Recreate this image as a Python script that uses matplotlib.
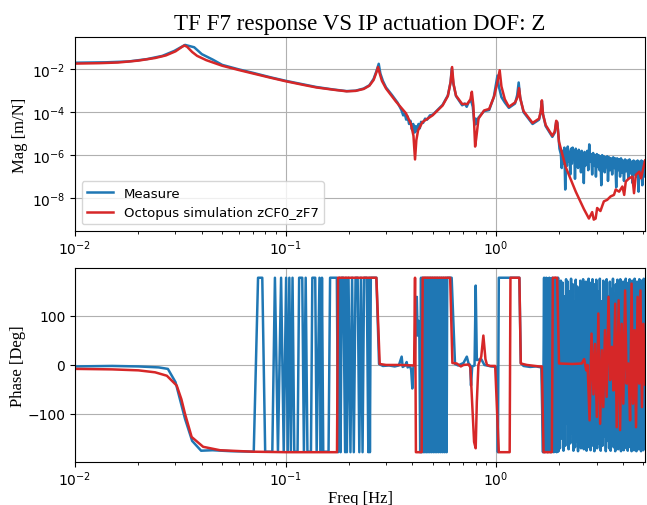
import numpy as np
import matplotlib
matplotlib.use("Agg")
import matplotlib.pyplot as plt

# donnees (frequences en Hz, amplitude en log10 [m/N], phase en deg)
f_mag_meas = [0.010, 0.014, 0.018, 0.022, 0.026, 0.0296, 0.0333, 0.0368, 0.040, 0.045,
              0.050, 0.060, 0.070, 0.085, 0.100, 0.120, 0.140, 0.170, 0.195, 0.215,
              0.235, 0.250, 0.262, 0.270, 0.277, 0.282, 0.290, 0.300, 0.320, 0.340,
              0.355, 0.362, 0.368, 0.374, 0.380, 0.386, 0.392, 0.398, 0.404, 0.410,
              0.416, 0.422, 0.428, 0.434, 0.440, 0.450, 0.460, 0.470, 0.485, 0.500,
              0.557, 0.590, 0.608, 0.616, 0.626, 0.645, 0.690, 0.710, 0.725, 0.740,
              0.760, 0.775, 0.790, 0.800, 0.810, 0.825, 0.877, 0.927, 0.975, 0.995,
              1.015, 1.030, 1.060, 1.100, 1.150, 1.230, 1.260, 1.280, 1.300, 1.350,
              1.490, 1.600, 1.630, 1.650, 1.670, 1.720, 1.850, 1.900, 1.930, 1.955,
              1.985, 2.00, 2.03, 2.05, 2.07, 2.09, 2.11, 2.13, 2.15, 2.17,
              2.19, 2.21, 2.23, 2.25, 2.27, 2.29, 2.31, 2.33, 2.35, 2.37,
              2.39, 2.41, 2.43, 2.45, 2.47, 2.49, 2.51, 2.53, 2.55, 2.57,
              2.59, 2.61, 2.63, 2.65, 2.67, 2.69, 2.71, 2.74, 2.77, 2.80,
              2.83, 2.86, 2.89, 2.92, 2.95, 2.98, 3.01, 3.04, 3.07, 3.10,
              3.13, 3.16, 3.19, 3.22, 3.25, 3.28, 3.31, 3.34, 3.37, 3.40,
              3.44, 3.48, 3.52, 3.56, 3.60, 3.64, 3.68, 3.72, 3.76, 3.80,
              3.84, 3.88, 3.92, 3.96, 4.00, 4.05, 4.10, 4.15, 4.20, 4.25,
              4.30, 4.35, 4.40, 4.45, 4.50, 4.55, 4.60, 4.65, 4.70, 4.75,
              4.80, 4.85, 4.90, 4.95, 5.00, 5.05, 5.10]
mag_meas = [-1.70, -1.68, -1.64, -1.53, -1.38, -1.15, -0.87, -0.98, -1.30, -1.55,
            -1.80, -2.01, -2.17, -2.38, -2.54, -2.70, -2.83, -2.95, -3.02, -3.00,
            -2.90, -2.75, -2.45, -2.10, -1.75, -2.20, -2.55, -2.85, -3.20, -3.55,
            -3.90, -4.15, -4.05, -4.35, -4.20, -4.55, -4.40, -4.80, -4.55, -4.95,
            -4.65, -4.90, -4.55, -4.75, -4.45, -4.50, -4.30, -4.35, -4.15, -4.12,
            -3.66, -3.22, -2.60, -1.95, -2.65, -3.25, -3.68, -3.60, -3.75, -3.55,
            -3.45, -3.75, -4.60, -4.30, -4.55, -4.25, -3.95, -3.90, -3.30, -2.80,
            -2.30, -2.80, -3.30, -3.55, -3.80, -3.60, -3.20, -2.62, -3.30, -4.00,
            -4.55, -4.35, -4.00, -3.48, -4.10, -4.65, -5.15, -4.95, -4.45, -4.50,
            -5.30, -5.70, -5.95, -6.60, -5.80, -6.40, -5.65, -7.60, -5.75, -6.50,
            -5.60, -6.30, -5.85, -6.90, -5.70, -6.40, -5.65, -6.20, -5.80, -7.10,
            -5.70, -6.35, -5.90, -6.60, -5.75, -6.30, -5.85, -6.80, -5.80, -6.45,
            -5.95, -7.30, -5.85, -6.50, -5.90, -6.40, -5.80, -6.70, -5.50, -6.30,
            -5.95, -6.90, -5.90, -6.50, -6.00, -7.00, -5.95, -6.55, -6.00, -6.70,
            -6.05, -7.40, -6.00, -6.60, -6.05, -6.80, -6.10, -6.55, -6.05, -7.20,
            -6.10, -6.70, -6.15, -6.90, -6.10, -6.60, -6.15, -7.50, -6.15, -6.70,
            -6.20, -7.00, -6.15, -6.80, -6.25, -7.20, -6.20, -6.75, -6.25, -7.10,
            -6.20, -6.85, -6.30, -7.30, -6.25, -6.90, -6.30, -7.00, -6.25, -7.70,
            -6.30, -6.90, -6.25, -7.40, -6.30, -7.00, -6.35]

f_mag_sim = [0.010, 0.013, 0.016, 0.020, 0.024, 0.027, 0.030, 0.032, 0.0330, 0.0340,
             0.036, 0.038, 0.042, 0.050, 0.060, 0.070, 0.085, 0.100, 0.120, 0.140,
             0.170, 0.195, 0.215, 0.235, 0.250, 0.262, 0.270, 0.275, 0.280, 0.287,
             0.300, 0.334, 0.373, 0.394, 0.405, 0.412, 0.418, 0.426, 0.447, 0.499,
             0.557, 0.590, 0.608, 0.618, 0.628, 0.645, 0.690, 0.730, 0.755, 0.767,
             0.780, 0.795, 0.805, 0.825, 0.877, 0.927, 0.980, 1.010, 1.040, 1.060,
             1.100, 1.150, 1.230, 1.265, 1.285, 1.305, 1.350, 1.490, 1.600, 1.630,
             1.650, 1.670, 1.720, 1.850, 1.900, 1.930, 1.950, 1.990, 2.14, 2.39,
             2.61, 2.76, 2.86, 2.91, 2.97, 3.02, 3.13, 3.25, 3.37, 3.50,
             3.63, 3.70, 3.84, 3.98, 4.06, 4.13, 4.28, 4.44, 4.52, 4.61,
             4.79, 4.88, 5.00, 5.10]
mag_sim = [-1.74, -1.72, -1.69, -1.60, -1.48, -1.36, -1.17, -0.98, -0.90, -0.95,
           -1.20, -1.38, -1.58, -1.84, -2.04, -2.20, -2.40, -2.56, -2.72, -2.85,
           -2.96, -3.03, -3.01, -2.92, -2.77, -2.50, -2.15, -1.90, -2.20, -2.55,
           -2.90, -3.50, -4.05, -4.55, -5.10, -6.20, -5.30, -4.85, -4.46, -4.15,
           -3.69, -3.25, -2.60, -1.90, -2.70, -3.23, -3.62, -3.62, -3.40, -3.05,
           -3.70, -5.60, -5.20, -4.30, -3.92, -3.85, -3.25, -2.70, -2.05, -2.80,
           -3.40, -3.75, -3.55, -3.30, -2.88, -3.40, -3.95, -4.50, -4.30, -3.95,
           -3.45, -4.10, -4.60, -5.10, -4.90, -4.40, -4.45, -5.38, -6.55, -7.70,
           -8.50, -8.95, -8.65, -9.00, -8.95, -8.46, -8.60, -8.15, -8.08, -7.92,
           -7.85, -7.60, -7.70, -7.46, -7.85, -7.23, -7.08, -7.00, -7.77, -6.92,
           -6.77, -7.08, -6.62, -6.25]

f_ph_meas = [0.010, 0.015, 0.020, 0.025, 0.0276, 0.0300, 0.0333, 0.0360, 0.0397, 0.045,
             0.055, 0.0706, 0.0740, 0.0775, 0.0800, 0.0865, 0.0890, 0.0920, 0.0952, 0.0980,
             0.1006, 0.1024, 0.1042, 0.1060, 0.1079, 0.1100, 0.1140, 0.1160, 0.1200, 0.1222,
             0.1246, 0.1270, 0.1320, 0.1340, 0.1383, 0.1405, 0.1449, 0.1470, 0.1489, 0.1510,
             0.1600, 0.1627, 0.1752, 0.1775, 0.1801, 0.1825, 0.1848, 0.1880, 0.1918, 0.1935,
             0.1955, 0.1990, 0.2033, 0.2070, 0.2109, 0.2150, 0.2200, 0.2240, 0.2280, 0.2321,
             0.2360, 0.2430, 0.2472, 0.2495, 0.2515, 0.2540, 0.2700, 0.2780, 0.2900, 0.3100,
             0.3300, 0.3450, 0.3560, 0.3600, 0.3700, 0.3760, 0.3800, 0.3900, 0.3950, 0.4000,
             0.4050, 0.4100, 0.4150, 0.4200, 0.4240, 0.4280, 0.4320, 0.4360, 0.440, 0.443,
             0.447, 0.451, 0.455, 0.459, 0.463, 0.467, 0.471, 0.475, 0.480, 0.484,
             0.489, 0.493, 0.498, 0.503, 0.508, 0.513, 0.518, 0.523, 0.528, 0.534,
             0.540, 0.546, 0.552, 0.558, 0.564, 0.570, 0.576, 0.582, 0.586, 0.615,
             0.638, 0.660, 0.700, 0.726, 0.740, 0.753, 0.760, 0.770, 0.790, 0.800,
             0.810, 0.850, 0.880, 0.950, 1.010, 1.020, 1.030, 1.290, 1.310, 1.350,
             1.450, 1.550, 1.640, 1.670, 1.690, 1.700, 1.710, 1.720, 1.730, 1.740,
             1.750, 1.760, 1.770, 1.780, 1.790, 1.800, 1.810, 1.820, 1.830, 1.840,
             1.850, 1.860, 1.870, 1.880, 1.890, 1.900, 1.910, 1.920, 1.930, 1.940,
             1.950, 1.960, 1.970, 1.980, 1.990, 2.010, 2.030, 2.050, 2.070, 2.090,
             2.110, 2.130, 2.150, 2.170, 2.190, 2.210, 2.230, 2.250, 2.270, 2.290,
             2.310, 2.330, 2.350, 2.370, 2.390, 2.410, 2.430, 2.450, 2.470, 2.490,
             2.510, 2.530, 2.550, 2.570, 2.590, 2.610, 2.630, 2.650, 2.670, 2.690,
             2.710, 2.730, 2.750, 2.770, 2.790, 2.810, 2.830, 2.850, 2.870, 2.890,
             2.910, 2.930, 2.950, 2.970, 2.990, 3.020, 3.050, 3.080, 3.110, 3.140,
             3.170, 3.200, 3.230, 3.260, 3.290, 3.320, 3.350, 3.380, 3.410, 3.440,
             3.470, 3.500, 3.530, 3.560, 3.590, 3.620, 3.650, 3.680, 3.710, 3.740,
             3.770, 3.800, 3.830, 3.860, 3.890, 3.920, 3.950, 3.980, 4.010, 4.040,
             4.070, 4.100, 4.130, 4.160, 4.190, 4.220, 4.250, 4.280, 4.310, 4.340,
             4.370, 4.400, 4.430, 4.460, 4.490, 4.520, 4.550, 4.580, 4.610, 4.640,
             4.670, 4.700, 4.730, 4.760, 4.790, 4.820, 4.850, 4.880, 4.910, 4.940,
             4.970, 5.000, 5.030, 5.060, 5.090, 5.100]
ph_meas = [-3, -2, -3, -5, -8, -35, -110, -155, -175, -174,
           -176, -177, 178, 178, -177, -177, 178, -177, 178, -177,
           178, -177, 178, -177, 178, -177, -177, 178, 178, -177,
           178, -177, -177, 178, 178, -177, 178, -177, 178, -177,
           -177, 178, 178, -178, 178, -178, 178, 178, -178, 178,
           -178, 178, -178, 178, -178, 178, 178, -178, 178, -178,
           178, 178, -178, 178, -178, 178, 178, 2, -2, -1,
           -3, -1, 17, -4, -1, 6, -5, -2, -10, -48,
           -3, -1, 80, 139, 60, 90, 55, -178, 178, -178,
           178, -178, 178, -178, 178, -178, 178, -178, 178, -178,
           178, -178, 178, -178, 178, -178, 178, -178, 178, -178,
           178, -178, 178, -178, 178, -178, 178, -178, 178, 178,
           2, -1, 4, 17, 3, 0, -42, -3, -1, 162,
           10, 12, 0, -3, -4, -178, 178, 178, 4, -2,
           -4, -3, -5, -178, 178, -178, 176, -177, 178, -176,
           177, -178, 175, -177, 178, -176, 177, -178, 176, -177,
           178, -175, 177, -178, 176, -177, 178, -176, 177, -178,
           175, -177, 178, -176, 160, -170, 172, -150, 168, -175,
           140, -165, 175, -120, 170, -172, 150, -160, 176, -140,
           165, -175, 130, -168, 174, -155, 160, -176, 145, -150,
           172, -170, 155, -130, 175, -172, 120, -160, 170, -175,
           150, -145, 176, -168, 135, -174, 168, -150, 175, -165,
           145, -176, 165, -135, 174, -170, 150, -160, 176, -175,
           130, -165, 172, -145, 160, -176, 175, -155, 140, -170,
           170, -175, 155, -140, 176, -168, 145, -176, 165, -150,
           174, -172, 125, -165, 175, -176, 160, -145, 170, -174,
           150, -160, 176, -170, 140, -175, 168, -135, 175, -168,
           155, -176, 172, -150, 145, -174, 176, -160, 130, -176,
           170, -165, 160, -172, 175, -145, 150, -176, 172, -160,
           165, -174, 176, -150, 160, -170]

f_ph_sim = [0.010, 0.015, 0.020, 0.024, 0.0273, 0.0304, 0.0320, 0.0333, 0.0358, 0.0406,
            0.0488, 0.070, 0.100, 0.1755, 0.1775, 0.270, 0.280, 0.300, 0.350, 0.408,
            0.412, 0.416, 0.443, 0.448, 0.605, 0.620, 0.650, 0.680, 0.700, 0.740,
            0.755, 0.786, 0.800, 0.810, 0.824, 0.850, 0.870, 0.890, 0.905, 0.935,
            0.990, 1.030, 1.160, 1.170, 1.290, 1.310, 1.400, 1.600, 1.650, 1.680,
            1.840, 1.860, 1.950, 1.990, 2.300, 2.550, 2.620, 2.680, 2.720, 2.780,
            2.840, 2.900, 2.950, 3.010, 3.060, 3.120, 3.180, 3.230, 3.290, 3.350,
            3.420, 3.480, 3.550, 3.610, 3.680, 3.740, 3.820, 3.880, 3.950, 4.020,
            4.100, 4.170, 4.250, 4.330, 4.400, 4.470, 4.550, 4.620, 4.700, 4.780,
            4.850, 4.930, 5.010, 5.100]
ph_sim = [-8, -9, -11, -15, -22, -42, -70, -100, -147, -167,
          -174, -177, -178, -178, 178, 178, 2, 0, 0, -1,
          178, -178, -178, 178, 178, 4, 3, -3, 0, 1,
          -5, -157, -170, -75, 0, 17, 60, 12, 0, -2,
          -2, -178, -178, 178, 178, 3, 0, -3, -3, -178,
          -178, 178, 178, 3, 2, 3, 12, -11, 0, -113,
          64, -60, 43, -106, 105, -120, 30, -86, 71, -65,
          139, -31, 37, -52, 125, -127, 132, -133, 84, -79,
          152, -38, 3, -113, 166, -79, 71, -127, 139, -38,
          152, -86, 84, -40]

fig = plt.figure(figsize=(6.47, 5.06), dpi=100)
ax1 = fig.add_axes([0.116, 0.5415, 0.881, 0.3835])
ax2 = fig.add_axes([0.116, 0.085, 0.881, 0.3835])

serif = 'Liberation Serif'

ax1.plot(f_mag_meas, 10 ** np.array(mag_meas), color='tab:blue', lw=1.8, label='Measure')
ax1.plot(f_mag_sim, 10 ** np.array(mag_sim), color='tab:red', lw=1.8,
         label='Octopus simulation zCF0_zF7')
ax1.set_xscale('log')
ax1.set_yscale('log')
ax1.set_xlim(0.01, 5.1)
ax1.set_ylim(10 ** -9.53, 10 ** -0.5)
ax1.grid(True)
ax1.set_ylabel('Mag [m/N]', family=serif, fontsize=12, labelpad=3)
ax1.set_title('TF F7 response VS IP actuation DOF: Z', family=serif, fontsize=16.6)
ax1.legend(loc='lower left', fontsize=9.5)

ax2.plot(f_ph_meas, ph_meas, color='tab:blue', lw=1.8)
ax2.plot(f_ph_sim, ph_sim, color='tab:red', lw=1.8)
ax2.set_xscale('log')
ax2.set_xlim(0.01, 5.1)
ax2.set_ylim(-198, 198)
ax2.grid(True)
ax2.set_ylabel('Phase [Deg]', family=serif, fontsize=12, labelpad=1)
ax2.set_xlabel('Freq [Hz]', family=serif, fontsize=12, labelpad=1)

for ax in (ax1, ax2):
    ax.tick_params(labelsize=10)
    ax.tick_params(axis='x', pad=2)

fig.savefig('out.png', dpi=100)
